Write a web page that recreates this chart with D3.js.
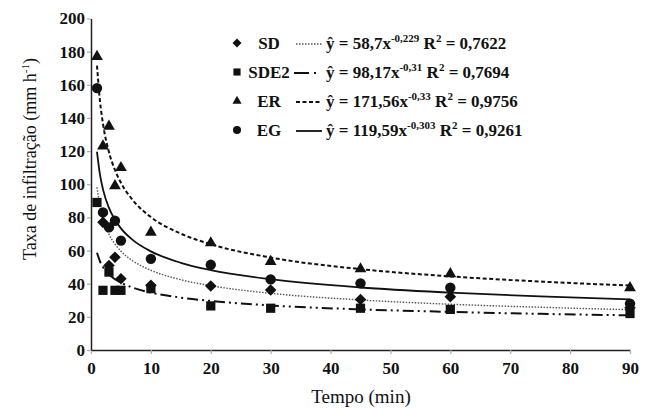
<!DOCTYPE html>
<html>
<head>
<meta charset="utf-8">
<script src="https://cdn.jsdelivr.net/npm/d3@7"></script>
<style>
	body { margin: 0; background: #fff; }
	svg text { font-family: "Liberation Serif", "DejaVu Serif", "Times New Roman", serif; fill: #111; }
</style>
</head>
<body>
<div id="chart"></div>
<script>

// (data) measured points
var times = [1, 2, 3, 4, 5, 10, 20, 30, 45, 60, 90];
var sdValues = [null, 77, 51, 56, 43, 39, 38.6, 36.2, 30.5, 32.2, 25.5];
var sde2Values = [89, 36, 47, 36, 36, 37, 26.6, 25.2, 25.2, 24.5, 22];
var erValues = [177, 123, 135, 99, 110, 71, 64.6, 53.3, 48.9, 45.9, 37.5];
var egValues = [158, 83, 74, 78, 66, 55, 51.4, 42.6, 40.2, 37.6, 28];

// (data) trend lines
var trendTimes = [1, 1.5, 2, 3, 4, 5, 7, 10, 15, 20, 30, 45, 60, 75, 90];
var sdTrend = [98.2, 86.6, 79.2, 69.8, 63.9, 59.6, 53.7, 48.1, 42.4, 38.8, 34.2, 30.2, 27.6, 25.8, 24.3];
var sde2Trend = [58.7, 53.5, 50.1, 45.6, 42.7, 40.6, 37.6, 34.6, 31.6, 29.6, 26.9, 24.5, 23.0, 21.8, 20.9];
var erTrend = [171.6, 150.1, 136.5, 119.4, 108.6, 100.9, 90.3, 80.2, 70.2, 63.8, 55.8, 48.8, 44.4, 41.3, 38.9];
var egTrend = [119.6, 105.8, 96.9, 85.7, 78.6, 73.4, 66.3, 59.5, 52.6, 48.2, 42.7, 37.7, 34.6, 32.3, 30.6];

// (data) legend
var seriesNames = ["SD", "SDE2", "ER", "EG"];
var eqCoef = ["58,7", "98,17", "171,56", "119,59"];
var eqExp = ["-0,229", "-0,31", "-0,33", "-0,303"];
var eqR2 = ["0,7622", "0,7694", "0,9756", "0,9261"];

var xTicks = [0, 10, 20, 30, 40, 50, 60, 70, 80, 90];
var yTicks = [0, 20, 40, 60, 80, 100, 120, 140, 160, 180, 200];

var width = 650, height = 408;
var margin = {left: 91, right: 20, top: 18.5, bottom: 58};
var serif = "'Liberation Serif', 'DejaVu Serif', serif";

var svg = d3.select("#chart").append("svg")
	.attr("width", width)
	.attr("height", height);

var x = d3.scaleLinear().domain([0, 90]).range([margin.left, width - margin.right]);
var y = d3.scaleLinear().domain([0, 200]).range([height - margin.bottom, margin.top]);

// (series) style per series
var diamond = d3.symbolDiamond2 || d3.symbolDiamond;
var series = [
	{name: "SD", values: sdValues, trend: sdTrend, symbol: diamond, size: 85, dash: "1.5,1.5", lw: 1.4, stroke: "#555"},
	{name: "SDE2", values: sde2Values, trend: sde2Trend, symbol: d3.symbolSquare, size: 85, dash: "11,4,2,4,2,4", lw: 2, stroke: "#111"},
	{name: "ER", values: erValues, trend: erTrend, symbol: d3.symbolTriangle, size: 60, dash: "4,2.5", lw: 2, stroke: "#111"},
	{name: "EG", values: egValues, trend: egTrend, symbol: d3.symbolCircle, size: 85, dash: null, lw: 1.8, stroke: "#111"}
];

// (axes) x axis
var xAxis = svg.append("g")
	.attr("transform", "translate(0," + y(0) + ")")
	.call(d3.axisBottom(x).tickValues(xTicks).tickSize(4).tickPadding(8).tickSizeOuter(0));
xAxis.attr("font-family", null);
xAxis.select(".domain").attr("stroke", "#222").attr("stroke-width", 1.5);
xAxis.selectAll(".tick line").attr("stroke", "#aaa").attr("stroke-width", 1.2);
xAxis.selectAll("text")
	.style("font-family", serif)
	.style("font-weight", "bold")
	.style("font-size", "17px")
	.attr("fill", "#111");

// (axes) y axis
var yAxis = svg.append("g")
	.attr("transform", "translate(" + x(0) + ",0)")
	.call(d3.axisLeft(y).tickValues(yTicks).tickSize(4).tickPadding(2).tickSizeOuter(0));
yAxis.attr("font-family", null);
yAxis.select(".domain").attr("stroke", "#222").attr("stroke-width", 1.5);
yAxis.selectAll(".tick line").attr("stroke", "#aaa").attr("stroke-width", 1.2);
yAxis.selectAll("text")
	.style("font-family", serif)
	.style("font-weight", "bold")
	.style("font-size", "17px")
	.attr("fill", "#111");

// (titles)
svg.append("text")
	.attr("x", 361)
	.attr("y", 403)
	.attr("text-anchor", "middle")
	.style("font-size", "19px")
	.text("Tempo (min)");

var yTitle = svg.append("text")
	.attr("transform", "translate(30,159) rotate(-90)")
	.attr("text-anchor", "middle")
	.attr("dy", "0.35em")
	.style("font-size", "18px");
yTitle.append("tspan").text("Taxa de infiltração (mm h");
yTitle.append("tspan").attr("dy", -7).style("font-size", "11px").text("-1");
yTitle.append("tspan").attr("dy", 7).text(")");

// (trend) lines
var line = d3.line()
	.x(function(d) { return x(d.t); })
	.y(function(d) { return y(d.v); })
	.curve(d3.curveMonotoneX);

series.forEach(function(s) {
	var pts = trendTimes.map(function(t, i) { return {t: t, v: s.trend[i]}; });
	svg.append("path")
		.datum(pts)
		.attr("d", line)
		.attr("fill", "none")
		.attr("stroke", s.stroke)
		.attr("stroke-width", s.lw)
		.attr("stroke-dasharray", s.dash);
});

// (points) markers
series.forEach(function(s) {
	var pts = times.map(function(t, i) { return {t: t, v: s.values[i]}; })
		.filter(function(d) { return d.v != null; });
	svg.append("g").selectAll("path")
		.data(pts)
		.enter()
		.append("path")
		.attr("transform", function(d) { return "translate(" + x(d.t) + "," + y(d.v) + ")"; })
		.attr("d", d3.symbol().type(s.symbol).size(s.size))
		.attr("fill", "#111");
});

// (legend)
var rowY = [43, 72, 101, 130];
series.forEach(function(s, i) {
	var ly = rowY[i];
	svg.append("path")
		.attr("transform", "translate(237," + ly + ")")
		.attr("d", d3.symbol().type(s.symbol).size(s.size * 0.6))
		.attr("fill", "#111");
	svg.append("text")
		.attr("x", 269)
		.attr("y", ly)
		.attr("dy", "0.35em")
		.attr("text-anchor", "middle")
		.style("font-weight", "bold")
		.style("font-size", "17px")
		.text(seriesNames[i]);
	svg.append("line")
		.attr("x1", s.name == "SDE2" ? 294 : 296)
		.attr("x2", 322)
		.attr("y1", ly + 1)
		.attr("y2", ly + 1)
		.attr("stroke", s.stroke)
		.attr("stroke-width", s.lw)
		.attr("stroke-dasharray", s.name == "SDE2" ? "15,5,2,10" : s.dash);

	var eq = svg.append("text")
		.attr("x", 326)
		.attr("y", ly)
		.attr("dy", "0.35em")
		.style("font-weight", "bold")
		.style("font-size", "17px");
	eq.append("tspan").text("\u0177 = " + eqCoef[i] + "x");
	eq.append("tspan").attr("dy", -7).style("font-size", "11px").text(eqExp[i]);
	eq.append("tspan").attr("dy", 7).text(" R");
	eq.append("tspan").attr("dy", -7).style("font-size", "11px").text("2");
	eq.append("tspan").attr("dy", 7).text(" = " + eqR2[i]);
});

</script>
</body>
</html>
